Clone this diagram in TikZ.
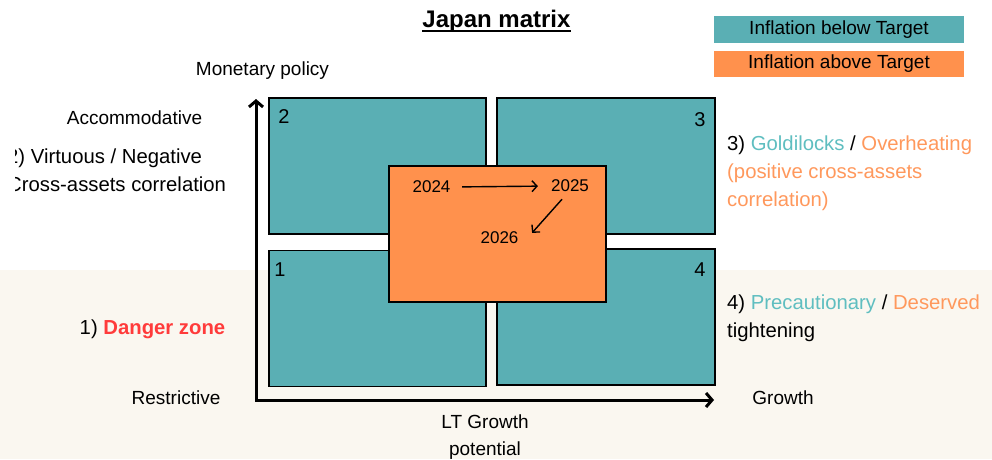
\documentclass[tikz,border=0pt]{standalone}
\usepackage{fontspec}
\setmainfont{Liberation Sans}
\usetikzlibrary{arrows.meta}

\definecolor{quadteal}{RGB}{90,175,180}
\definecolor{yearorange}{RGB}{255,145,77}
\definecolor{tealtext}{RGB}{95,190,192}
\definecolor{orangetext}{RGB}{255,152,92}
\definecolor{dangerred}{RGB}{255,59,59}
\definecolor{lowerband}{RGB}{250,247,240}

\begin{document}
\begin{tikzpicture}[x=1pt, y=-1pt,
        txt/.style={font=\fontsize{19}{27}\selectfont, inner sep=0pt, align=center},
        desc/.style={font=\fontsize{20.3}{28}\selectfont, inner sep=0pt, align=left, anchor=west},
        quad/.style={draw=black, line width=1.5pt, fill=quadteal, minimum width=217pt, minimum height=136pt, inner sep=0pt},
        legend/.style={minimum width=250pt, minimum height=27pt, inner sep=0pt, font=\fontsize{19}{23}\selectfont},
        year/.style={font=\fontsize{17}{20}\selectfont, inner sep=0pt},
        axis/.style={line width=3pt, line join=miter, {Straight Barb[length=6pt,width=14pt]}-{Straight Barb[length=6pt,width=14pt]}},
        yeararrow/.style={line width=1.4pt, -{Straight Barb[length=5pt,width=11pt]}}]

            \useasboundingbox (0,0) rectangle (992,459);
            \fill[lowerband] (0,270) rectangle (992,459);

            \node[font=\fontsize{24}{28}\selectfont\bfseries, inner sep=0pt, anchor=base] (title) at (496.5,27) {Japan matrix};
            \draw[line width=1.8pt] ([yshift=-4pt]title.base west) -- ([yshift=-4pt]title.base east);

            \node[legend, fill=quadteal] (below) at (839,29.5) {Inflation below Target};
            \node[legend, fill=yearorange, minimum height=26pt] (above) at (839,64) {Inflation above Target};

            \coordinate (origin) at (256,400);
            \coordinate (ytip) at (256,99);
            \coordinate (xtip) at (714,400);
            \draw[axis] (ytip) -- (origin) -- (xtip);

            \node[quad] (q2) at (377.5,166) {};
            \node[quad, minimum width=218pt] (q3) at (606,166) {};
            \node[quad] (q1) at (377.5,318.5) {};
            \node[quad, minimum width=218pt] (q4) at (606,317) {};
            \node[quad, fill=yearorange] (now) at (497.5,234) {};

            \node[txt, font=\fontsize{20}{24}\selectfont] (n2) at (284,117) {2};
            \node[txt, font=\fontsize{20}{24}\selectfont] (n3) at (700,120) {3};
            \node[txt, font=\fontsize{20}{24}\selectfont] (n1) at (280,270) {1};
            \node[txt, font=\fontsize{20}{24}\selectfont] (n4) at (700,270) {4};

            \node[year] (y2024) at (431.5,187) {2024};
            \node[year] (y2025) at (570,186) {2025};
            \node[year] (y2026) at (499.5,238) {2026};
            \draw[yeararrow, shorten <=11.5pt, shorten >=13pt] (y2024.east) -- (y2025.west);
            \draw[yeararrow] ([xshift=-8pt, yshift=-7pt]y2025.south) -- ([xshift=13.5pt, yshift=-1pt]y2026.north east);

            \node[txt] (monetary) at (262.5,71) {Monetary policy};
            \node[txt] (accomm) at (134.5,118) {Accommodative};
            \node[txt] (restrict) at (176,398) {Restrictive};
            \node[txt] (growth) at (783,398) {Growth};
            \node[txt] (ltgrowth) at (485,437) {LT Growth\\potential};

            \begin{scope}
                \clip (15,130) rectangle (250,200);
                \node[desc] (virtuous) at (7,170) {2) Virtuous / Negative\\Cross-assets correlation};
            \end{scope}
            \node[desc, anchor=center] (danger) at (152.5,329) {1) \textcolor{dangerred}{\bfseries Danger zone}};
            \node[desc] (goldilocks) at (727,173) {3) \textcolor{tealtext}{Goldilocks} / \textcolor{orangetext}{Overheating}\\\textcolor{orangetext}{(positive cross-assets}\\\textcolor{orangetext}{correlation)}};
            \node[desc] (precaution) at (727,318) {4) \textcolor{tealtext}{Precautionary} / \textcolor{orangetext}{Deserved}\\tightening};

        \end{tikzpicture}
\end{document}
